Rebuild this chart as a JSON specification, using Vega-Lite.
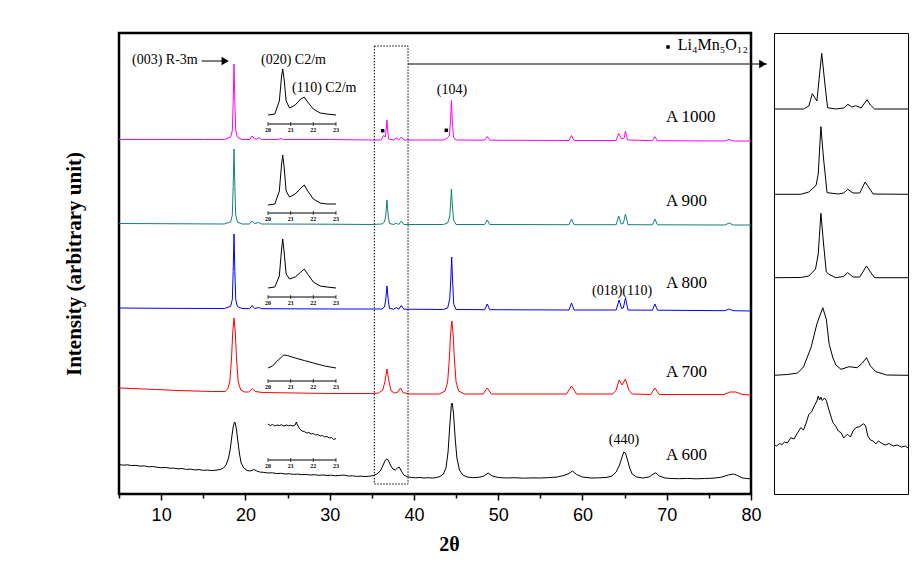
{
"$schema": "https://vega.github.io/schema/vega-lite/v6.json",
"padding": {"left": 61, "top": 31, "right": 5, "bottom": 5},
"spacing": 23,
"bounds": "flush",
"config": {"view": {"stroke": "black", "strokeWidth": 2}, "text": {"font": "Liberation Serif", "color": "black"}},
"datasets": {
"main": [
{"s":"A 1000","t":5,"v":354.5},{"s":"A 1000","t":10,"v":354.5},{"s":"A 1000","t":15,"v":354.5},{"s":"A 1000","t":17.5,"v":354.5},{"s":"A 1000","t":18.25,"v":356.8},{"s":"A 1000","t":18.45,"v":363.6},{"s":"A 1000","t":18.55,"v":392.3},{"s":"A 1000","t":18.65,"v":430},{"s":"A 1000","t":18.75,"v":392.3},{"s":"A 1000","t":18.85,"v":363.6},{"s":"A 1000","t":19.05,"v":356.8},{"s":"A 1000","t":19.6,"v":354.5},{"s":"A 1000","t":20.5,"v":354.5},{"s":"A 1000","t":20.8,"v":358},{"s":"A 1000","t":21.1,"v":355},{"s":"A 1000","t":21.35,"v":355},{"s":"A 1000","t":21.6,"v":356.5},{"s":"A 1000","t":21.9,"v":354.5},{"s":"A 1000","t":23.9,"v":354.5},{"s":"A 1000","t":24.2,"v":355.5},{"s":"A 1000","t":24.5,"v":354.5},{"s":"A 1000","t":30,"v":354.5},{"s":"A 1000","t":35,"v":354},{"s":"A 1000","t":36.1,"v":354},{"s":"A 1000","t":36.4,"v":358.5},{"s":"A 1000","t":36.6,"v":357},{"s":"A 1000","t":36.7,"v":364},{"s":"A 1000","t":36.8,"v":374},{"s":"A 1000","t":36.9,"v":362},{"s":"A 1000","t":37.0,"v":355},{"s":"A 1000","t":37.6,"v":354},{"s":"A 1000","t":37.9,"v":356},{"s":"A 1000","t":38.2,"v":354},{"s":"A 1000","t":38.5,"v":357},{"s":"A 1000","t":38.8,"v":354},{"s":"A 1000","t":43.5,"v":354},{"s":"A 1000","t":43.9,"v":355.5},{"s":"A 1000","t":44.2,"v":358},{"s":"A 1000","t":44.35,"v":373},{"s":"A 1000","t":44.45,"v":393.5},{"s":"A 1000","t":44.55,"v":373},{"s":"A 1000","t":44.7,"v":357},{"s":"A 1000","t":45.0,"v":354},{"s":"A 1000","t":48.4,"v":353.8},{"s":"A 1000","t":48.7,"v":357.5},{"s":"A 1000","t":49.0,"v":353.8},{"s":"A 1000","t":58.4,"v":353.5},{"s":"A 1000","t":58.7,"v":358.5},{"s":"A 1000","t":59.0,"v":353.5},{"s":"A 1000","t":64.0,"v":353.5},{"s":"A 1000","t":64.3,"v":360.5},{"s":"A 1000","t":64.65,"v":355},{"s":"A 1000","t":64.95,"v":356},{"s":"A 1000","t":65.1,"v":363},{"s":"A 1000","t":65.35,"v":354},{"s":"A 1000","t":68.3,"v":353.3},{"s":"A 1000","t":68.6,"v":357.3},{"s":"A 1000","t":68.9,"v":353.3},{"s":"A 1000","t":76.9,"v":353},{"s":"A 1000","t":77.4,"v":354.5},{"s":"A 1000","t":77.9,"v":353},{"s":"A 1000","t":80,"v":353},
{"s":"A 900","t":5,"v":270.5},{"s":"A 900","t":10,"v":270.3},{"s":"A 900","t":17.5,"v":270},{"s":"A 900","t":18.25,"v":272.2},{"s":"A 900","t":18.45,"v":279},{"s":"A 900","t":18.55,"v":307.5},{"s":"A 900","t":18.65,"v":345},{"s":"A 900","t":18.75,"v":307.5},{"s":"A 900","t":18.85,"v":279},{"s":"A 900","t":19.05,"v":272},{"s":"A 900","t":19.6,"v":270},{"s":"A 900","t":20.5,"v":270},{"s":"A 900","t":20.8,"v":273},{"s":"A 900","t":21.1,"v":270.5},{"s":"A 900","t":21.6,"v":271.5},{"s":"A 900","t":21.9,"v":270},{"s":"A 900","t":30,"v":269.8},{"s":"A 900","t":35,"v":269.5},{"s":"A 900","t":36.2,"v":270},{"s":"A 900","t":36.5,"v":272},{"s":"A 900","t":36.65,"v":278},{"s":"A 900","t":36.8,"v":294},{"s":"A 900","t":36.95,"v":278},{"s":"A 900","t":37.1,"v":270.5},{"s":"A 900","t":37.6,"v":269.5},{"s":"A 900","t":37.9,"v":270.8},{"s":"A 900","t":38.2,"v":269.5},{"s":"A 900","t":38.5,"v":273},{"s":"A 900","t":38.8,"v":269.5},{"s":"A 900","t":43.5,"v":269.5},{"s":"A 900","t":44.0,"v":271},{"s":"A 900","t":44.25,"v":278},{"s":"A 900","t":44.35,"v":290},{"s":"A 900","t":44.45,"v":305},{"s":"A 900","t":44.55,"v":290},{"s":"A 900","t":44.7,"v":274},{"s":"A 900","t":45.0,"v":269.5},{"s":"A 900","t":48.4,"v":269.5},{"s":"A 900","t":48.7,"v":274},{"s":"A 900","t":49.0,"v":269.5},{"s":"A 900","t":58.4,"v":269.3},{"s":"A 900","t":58.7,"v":275},{"s":"A 900","t":59.0,"v":269.3},{"s":"A 900","t":64.0,"v":269.3},{"s":"A 900","t":64.3,"v":278},{"s":"A 900","t":64.6,"v":270},{"s":"A 900","t":64.85,"v":270.5},{"s":"A 900","t":65.1,"v":280},{"s":"A 900","t":65.4,"v":269.3},{"s":"A 900","t":68.3,"v":269.2},{"s":"A 900","t":68.6,"v":275},{"s":"A 900","t":68.9,"v":269.2},{"s":"A 900","t":76.9,"v":269},{"s":"A 900","t":77.4,"v":271},{"s":"A 900","t":77.9,"v":269},{"s":"A 900","t":80,"v":269},
{"s":"A 800","t":5,"v":186},{"s":"A 800","t":10,"v":185.7},{"s":"A 800","t":17.5,"v":185.5},{"s":"A 800","t":18.25,"v":187.7},{"s":"A 800","t":18.45,"v":194.7},{"s":"A 800","t":18.55,"v":222.7},{"s":"A 800","t":18.65,"v":260},{"s":"A 800","t":18.75,"v":222.7},{"s":"A 800","t":18.85,"v":194.7},{"s":"A 800","t":19.05,"v":187.5},{"s":"A 800","t":19.6,"v":185.5},{"s":"A 800","t":20.5,"v":185.3},{"s":"A 800","t":20.8,"v":188.5},{"s":"A 800","t":21.1,"v":185.5},{"s":"A 800","t":21.6,"v":186.5},{"s":"A 800","t":21.9,"v":185.3},{"s":"A 800","t":30,"v":185},{"s":"A 800","t":36.2,"v":185},{"s":"A 800","t":36.5,"v":187},{"s":"A 800","t":36.65,"v":194},{"s":"A 800","t":36.8,"v":208},{"s":"A 800","t":36.95,"v":194},{"s":"A 800","t":37.1,"v":185.5},{"s":"A 800","t":37.6,"v":184.8},{"s":"A 800","t":37.9,"v":186.3},{"s":"A 800","t":38.2,"v":184.8},{"s":"A 800","t":38.5,"v":188.5},{"s":"A 800","t":38.8,"v":184.8},{"s":"A 800","t":43.5,"v":184.5},{"s":"A 800","t":44.0,"v":186},{"s":"A 800","t":44.25,"v":195},{"s":"A 800","t":44.38,"v":215},{"s":"A 800","t":44.48,"v":237},{"s":"A 800","t":44.58,"v":215},{"s":"A 800","t":44.72,"v":190},{"s":"A 800","t":45.0,"v":184.5},{"s":"A 800","t":48.4,"v":184.3},{"s":"A 800","t":48.7,"v":190},{"s":"A 800","t":49.0,"v":184.3},{"s":"A 800","t":58.4,"v":184},{"s":"A 800","t":58.7,"v":191},{"s":"A 800","t":59.0,"v":184},{"s":"A 800","t":64.0,"v":184},{"s":"A 800","t":64.35,"v":194},{"s":"A 800","t":64.65,"v":185.5},{"s":"A 800","t":64.85,"v":186},{"s":"A 800","t":65.1,"v":196},{"s":"A 800","t":65.4,"v":184},{"s":"A 800","t":68.3,"v":183.8},{"s":"A 800","t":68.6,"v":190},{"s":"A 800","t":68.9,"v":183.8},{"s":"A 800","t":76.9,"v":183.3},{"s":"A 800","t":77.4,"v":185},{"s":"A 800","t":77.9,"v":183.3},{"s":"A 800","t":80,"v":183},
{"s":"A 700","t":5,"v":106},{"s":"A 700","t":8,"v":105},{"s":"A 700","t":12,"v":103.5},{"s":"A 700","t":16,"v":102.5},{"s":"A 700","t":17.6,"v":102.5},{"s":"A 700","t":17.9,"v":105},{"s":"A 700","t":18.15,"v":112},{"s":"A 700","t":18.35,"v":135},{"s":"A 700","t":18.5,"v":162},{"s":"A 700","t":18.65,"v":176},{"s":"A 700","t":18.8,"v":162},{"s":"A 700","t":18.95,"v":135},{"s":"A 700","t":19.15,"v":112},{"s":"A 700","t":19.45,"v":104},{"s":"A 700","t":19.9,"v":102},{"s":"A 700","t":20.4,"v":102},{"s":"A 700","t":20.8,"v":105.3},{"s":"A 700","t":21.2,"v":102.5},{"s":"A 700","t":22,"v":101.5},{"s":"A 700","t":26,"v":101},{"s":"A 700","t":30,"v":100.5},{"s":"A 700","t":35,"v":100.5},{"s":"A 700","t":35.8,"v":101},{"s":"A 700","t":36.3,"v":104},{"s":"A 700","t":36.55,"v":112},{"s":"A 700","t":36.8,"v":125},{"s":"A 700","t":37.05,"v":112},{"s":"A 700","t":37.3,"v":103},{"s":"A 700","t":37.7,"v":101},{"s":"A 700","t":38.1,"v":102},{"s":"A 700","t":38.4,"v":106},{"s":"A 700","t":38.7,"v":101.5},{"s":"A 700","t":39.5,"v":100},{"s":"A 700","t":43,"v":100},{"s":"A 700","t":43.7,"v":103},{"s":"A 700","t":44.0,"v":112},{"s":"A 700","t":44.2,"v":135},{"s":"A 700","t":44.35,"v":160},{"s":"A 700","t":44.5,"v":173},{"s":"A 700","t":44.65,"v":160},{"s":"A 700","t":44.8,"v":135},{"s":"A 700","t":45.0,"v":112},{"s":"A 700","t":45.3,"v":103},{"s":"A 700","t":46,"v":100},{"s":"A 700","t":48.2,"v":100},{"s":"A 700","t":48.7,"v":106},{"s":"A 700","t":49.2,"v":100},{"s":"A 700","t":58.1,"v":100},{"s":"A 700","t":58.7,"v":108},{"s":"A 700","t":59.3,"v":100},{"s":"A 700","t":63.6,"v":100},{"s":"A 700","t":64.0,"v":104},{"s":"A 700","t":64.35,"v":114},{"s":"A 700","t":64.7,"v":109},{"s":"A 700","t":65.1,"v":115},{"s":"A 700","t":65.5,"v":104},{"s":"A 700","t":65.9,"v":100},{"s":"A 700","t":68.1,"v":99.5},{"s":"A 700","t":68.6,"v":106},{"s":"A 700","t":69.1,"v":99.5},{"s":"A 700","t":76.8,"v":99.5},{"s":"A 700","t":77.5,"v":102},{"s":"A 700","t":78.2,"v":102},{"s":"A 700","t":79,"v":99.5},{"s":"A 700","t":80,"v":99},
{"s":"A 600","t":5,"v":29.5},{"s":"A 600","t":5.5,"v":28.8},{"s":"A 600","t":6,"v":29.2},{"s":"A 600","t":6.5,"v":28.4},{"s":"A 600","t":7,"v":28.6},{"s":"A 600","t":7.5,"v":27.9},{"s":"A 600","t":8,"v":28.1},{"s":"A 600","t":8.5,"v":27.2},{"s":"A 600","t":9,"v":27.5},{"s":"A 600","t":9.5,"v":26.8},{"s":"A 600","t":10,"v":26.3},{"s":"A 600","t":10.5,"v":26.6},{"s":"A 600","t":11,"v":25.8},{"s":"A 600","t":11.5,"v":25.9},{"s":"A 600","t":12,"v":25.2},{"s":"A 600","t":12.5,"v":25.5},{"s":"A 600","t":13,"v":24.6},{"s":"A 600","t":13.5,"v":24.8},{"s":"A 600","t":14,"v":24.1},{"s":"A 600","t":14.5,"v":24.4},{"s":"A 600","t":15,"v":23.7},{"s":"A 600","t":15.5,"v":23.9},{"s":"A 600","t":16,"v":23.4},{"s":"A 600","t":16.5,"v":23.8},{"s":"A 600","t":17,"v":24.5},{"s":"A 600","t":17.4,"v":26},{"s":"A 600","t":17.7,"v":29},{"s":"A 600","t":18.0,"v":36},{"s":"A 600","t":18.2,"v":45},{"s":"A 600","t":18.4,"v":58},{"s":"A 600","t":18.55,"v":67},{"s":"A 600","t":18.7,"v":72},{"s":"A 600","t":18.8,"v":71},{"s":"A 600","t":18.95,"v":64},{"s":"A 600","t":19.1,"v":53},{"s":"A 600","t":19.3,"v":40},{"s":"A 600","t":19.5,"v":31},{"s":"A 600","t":19.8,"v":26},{"s":"A 600","t":20.2,"v":23.5},{"s":"A 600","t":20.6,"v":23},{"s":"A 600","t":21.0,"v":24.5},{"s":"A 600","t":21.3,"v":23.2},{"s":"A 600","t":21.7,"v":22},{"s":"A 600","t":22.2,"v":21.6},{"s":"A 600","t":22.7,"v":21},{"s":"A 600","t":23.2,"v":21.2},{"s":"A 600","t":23.7,"v":20.4},{"s":"A 600","t":24.2,"v":20.7},{"s":"A 600","t":24.7,"v":20},{"s":"A 600","t":25.2,"v":20.3},{"s":"A 600","t":25.7,"v":19.6},{"s":"A 600","t":26.2,"v":19.9},{"s":"A 600","t":26.7,"v":19.3},{"s":"A 600","t":27.2,"v":19.6},{"s":"A 600","t":27.7,"v":19},{"s":"A 600","t":28.2,"v":19.3},{"s":"A 600","t":28.7,"v":18.7},{"s":"A 600","t":29.2,"v":19},{"s":"A 600","t":29.7,"v":18.5},{"s":"A 600","t":30.2,"v":18.8},{"s":"A 600","t":30.7,"v":18.2},{"s":"A 600","t":31.2,"v":18.6},{"s":"A 600","t":31.7,"v":18.9},{"s":"A 600","t":32.2,"v":18},{"s":"A 600","t":32.7,"v":18.2},{"s":"A 600","t":33.2,"v":17.6},{"s":"A 600","t":33.7,"v":17.9},{"s":"A 600","t":34.2,"v":17.4},{"s":"A 600","t":34.7,"v":17.8},{"s":"A 600","t":35.2,"v":18.5},{"s":"A 600","t":35.6,"v":20},{"s":"A 600","t":36.0,"v":23},{"s":"A 600","t":36.3,"v":28},{"s":"A 600","t":36.55,"v":33},{"s":"A 600","t":36.75,"v":35},{"s":"A 600","t":36.95,"v":34},{"s":"A 600","t":37.2,"v":29},{"s":"A 600","t":37.5,"v":25},{"s":"A 600","t":37.8,"v":24},{"s":"A 600","t":38.05,"v":26},{"s":"A 600","t":38.25,"v":27},{"s":"A 600","t":38.5,"v":23},{"s":"A 600","t":38.8,"v":19},{"s":"A 600","t":39.2,"v":17.2},{"s":"A 600","t":39.7,"v":16.5},{"s":"A 600","t":40.2,"v":16.2},{"s":"A 600","t":40.7,"v":16.5},{"s":"A 600","t":41.2,"v":16},{"s":"A 600","t":41.7,"v":16.3},{"s":"A 600","t":42.2,"v":16},{"s":"A 600","t":42.7,"v":16.5},{"s":"A 600","t":43.1,"v":17.5},{"s":"A 600","t":43.5,"v":20},{"s":"A 600","t":43.8,"v":26},{"s":"A 600","t":44.05,"v":42},{"s":"A 600","t":44.25,"v":68},{"s":"A 600","t":44.45,"v":90},{"s":"A 600","t":44.55,"v":91},{"s":"A 600","t":44.7,"v":80},{"s":"A 600","t":44.9,"v":55},{"s":"A 600","t":45.1,"v":36},{"s":"A 600","t":45.4,"v":24},{"s":"A 600","t":45.8,"v":19},{"s":"A 600","t":46.3,"v":17},{"s":"A 600","t":47,"v":16.3},{"s":"A 600","t":47.8,"v":16.8},{"s":"A 600","t":48.3,"v":18},{"s":"A 600","t":48.8,"v":21},{"s":"A 600","t":49.3,"v":18},{"s":"A 600","t":50,"v":16.5},{"s":"A 600","t":51,"v":16},{"s":"A 600","t":52,"v":16.3},{"s":"A 600","t":53,"v":15.8},{"s":"A 600","t":54,"v":16.1},{"s":"A 600","t":55,"v":16},{"s":"A 600","t":56,"v":16.4},{"s":"A 600","t":57,"v":17},{"s":"A 600","t":57.8,"v":18.5},{"s":"A 600","t":58.4,"v":20.5},{"s":"A 600","t":58.8,"v":23},{"s":"A 600","t":59.3,"v":19.5},{"s":"A 600","t":60,"v":17},{"s":"A 600","t":61,"v":16},{"s":"A 600","t":62,"v":16.2},{"s":"A 600","t":62.8,"v":16.5},{"s":"A 600","t":63.5,"v":18},{"s":"A 600","t":64.0,"v":22},{"s":"A 600","t":64.4,"v":29},{"s":"A 600","t":64.7,"v":37},{"s":"A 600","t":64.9,"v":42},{"s":"A 600","t":65.1,"v":41},{"s":"A 600","t":65.35,"v":34},{"s":"A 600","t":65.6,"v":26},{"s":"A 600","t":65.9,"v":20},{"s":"A 600","t":66.4,"v":17},{"s":"A 600","t":67.2,"v":16},{"s":"A 600","t":67.9,"v":17},{"s":"A 600","t":68.4,"v":20},{"s":"A 600","t":68.7,"v":21.2},{"s":"A 600","t":69.1,"v":18},{"s":"A 600","t":69.8,"v":16},{"s":"A 600","t":70.5,"v":15.5},{"s":"A 600","t":71.5,"v":15.3},{"s":"A 600","t":72.5,"v":15.6},{"s":"A 600","t":73.5,"v":15.2},{"s":"A 600","t":74.5,"v":15.5},{"s":"A 600","t":75.5,"v":15.8},{"s":"A 600","t":76.5,"v":16.8},{"s":"A 600","t":77.3,"v":19},{"s":"A 600","t":77.9,"v":20},{"s":"A 600","t":78.4,"v":18.5},{"s":"A 600","t":79,"v":16},{"s":"A 600","t":79.5,"v":15.5},{"s":"A 600","t":80,"v":15.2}
],
"inset": [
{"s":"A 1000","t":20.0,"v":379},{"s":"A 1000","t":20.3,"v":380},{"s":"A 1000","t":20.5,"v":393},{"s":"A 1000","t":20.6,"v":418},{"s":"A 1000","t":20.65,"v":425},{"s":"A 1000","t":20.72,"v":413},{"s":"A 1000","t":20.8,"v":393},{"s":"A 1000","t":20.95,"v":386},{"s":"A 1000","t":21.2,"v":389},{"s":"A 1000","t":21.45,"v":395},{"s":"A 1000","t":21.6,"v":397},{"s":"A 1000","t":21.75,"v":392},{"s":"A 1000","t":22.0,"v":385},{"s":"A 1000","t":22.3,"v":381},{"s":"A 1000","t":22.6,"v":380},{"s":"A 1000","t":23.0,"v":379},
{"s":"A 900","t":20.0,"v":289},{"s":"A 900","t":20.3,"v":290},{"s":"A 900","t":20.5,"v":303},{"s":"A 900","t":20.6,"v":330},{"s":"A 900","t":20.65,"v":339},{"s":"A 900","t":20.72,"v":325},{"s":"A 900","t":20.8,"v":303},{"s":"A 900","t":20.95,"v":297},{"s":"A 900","t":21.2,"v":300},{"s":"A 900","t":21.45,"v":306},{"s":"A 900","t":21.6,"v":309},{"s":"A 900","t":21.75,"v":303},{"s":"A 900","t":22.0,"v":295},{"s":"A 900","t":22.3,"v":291},{"s":"A 900","t":22.6,"v":290},{"s":"A 900","t":23.0,"v":290},
{"s":"A 800","t":20.0,"v":206},{"s":"A 800","t":20.3,"v":207},{"s":"A 800","t":20.5,"v":218},{"s":"A 800","t":20.6,"v":245},{"s":"A 800","t":20.65,"v":255},{"s":"A 800","t":20.72,"v":240},{"s":"A 800","t":20.8,"v":220},{"s":"A 800","t":20.95,"v":215},{"s":"A 800","t":21.2,"v":217},{"s":"A 800","t":21.45,"v":222},{"s":"A 800","t":21.6,"v":225},{"s":"A 800","t":21.75,"v":220},{"s":"A 800","t":22.0,"v":212},{"s":"A 800","t":22.3,"v":208},{"s":"A 800","t":22.6,"v":207},{"s":"A 800","t":23.0,"v":206},
{"s":"A 700","t":20.0,"v":126},{"s":"A 700","t":20.2,"v":128},{"s":"A 700","t":20.45,"v":134},{"s":"A 700","t":20.7,"v":139},{"s":"A 700","t":20.85,"v":138.5},{"s":"A 700","t":21.2,"v":136},{"s":"A 700","t":21.6,"v":133.5},{"s":"A 700","t":22.0,"v":131},{"s":"A 700","t":22.5,"v":128},{"s":"A 700","t":23.0,"v":126},
{"s":"A 600","t":20.0,"v":70},{"s":"A 600","t":20.1,"v":68.5},{"s":"A 600","t":20.2,"v":69.5},{"s":"A 600","t":20.3,"v":68},{"s":"A 600","t":20.4,"v":69},{"s":"A 600","t":20.5,"v":68.5},{"s":"A 600","t":20.6,"v":69.2},{"s":"A 600","t":20.7,"v":68},{"s":"A 600","t":20.8,"v":69},{"s":"A 600","t":20.9,"v":68.3},{"s":"A 600","t":21.0,"v":68.8},{"s":"A 600","t":21.1,"v":68},{"s":"A 600","t":21.2,"v":69},{"s":"A 600","t":21.25,"v":72},{"s":"A 600","t":21.3,"v":69},{"s":"A 600","t":21.4,"v":65},{"s":"A 600","t":21.5,"v":63},{"s":"A 600","t":21.6,"v":62.5},{"s":"A 600","t":21.7,"v":61},{"s":"A 600","t":21.8,"v":61.5},{"s":"A 600","t":21.9,"v":60},{"s":"A 600","t":22.0,"v":60.5},{"s":"A 600","t":22.1,"v":59},{"s":"A 600","t":22.2,"v":59.5},{"s":"A 600","t":22.3,"v":58},{"s":"A 600","t":22.4,"v":58.5},{"s":"A 600","t":22.5,"v":57},{"s":"A 600","t":22.6,"v":57.5},{"s":"A 600","t":22.7,"v":56},{"s":"A 600","t":22.8,"v":56.5},{"s":"A 600","t":22.9,"v":54.5},{"s":"A 600","t":23.0,"v":55.5}
],
"insetAxis": [
{"s":"A 1000","base":370},{"s":"A 900","base":281},{"s":"A 800","base":197},{"s":"A 700","base":113},{"s":"A 600","base":34}
],
"insetTicks": [
{"t":20,"base":370,"lab":"20"},{"t":21,"base":370,"lab":"21"},{"t":22,"base":370,"lab":"22"},{"t":23,"base":370,"lab":"23"},
{"t":20,"base":281,"lab":"20"},{"t":21,"base":281,"lab":"21"},{"t":22,"base":281,"lab":"22"},{"t":23,"base":281,"lab":"23"},
{"t":20,"base":197,"lab":"20"},{"t":21,"base":197,"lab":"21"},{"t":22,"base":197,"lab":"22"},{"t":23,"base":197,"lab":"23"},
{"t":20,"base":113,"lab":"20"},{"t":21,"base":113,"lab":"21"},{"t":22,"base":113,"lab":"22"},{"t":23,"base":113,"lab":"23"},
{"t":20,"base":34,"lab":"20"},{"t":21,"base":34,"lab":"21"},{"t":22,"base":34,"lab":"22"},{"t":23,"base":34,"lab":"23"}
],
"zoom": [
{"s":"A 1000","t":35,"v":385},{"s":"A 1000","t":36.1,"v":385},{"s":"A 1000","t":36.3,"v":388},{"s":"A 1000","t":36.43,"v":400.3},{"s":"A 1000","t":36.6,"v":393},{"s":"A 1000","t":36.78,"v":440.7},{"s":"A 1000","t":36.9,"v":410},{"s":"A 1000","t":37.0,"v":386.3},{"s":"A 1000","t":37.3,"v":385},{"s":"A 1000","t":37.6,"v":386},{"s":"A 1000","t":37.76,"v":389.7},{"s":"A 1000","t":37.9,"v":387},{"s":"A 1000","t":38.05,"v":388.3},{"s":"A 1000","t":38.25,"v":386},{"s":"A 1000","t":38.47,"v":394.3},{"s":"A 1000","t":38.6,"v":389},{"s":"A 1000","t":38.75,"v":385},{"s":"A 1000","t":40,"v":385},
{"s":"A 900","t":35,"v":299.7},{"s":"A 900","t":36.0,"v":299.7},{"s":"A 900","t":36.3,"v":302},{"s":"A 900","t":36.57,"v":308.7},{"s":"A 900","t":36.65,"v":320},{"s":"A 900","t":36.75,"v":367.3},{"s":"A 900","t":36.85,"v":335},{"s":"A 900","t":36.98,"v":301.3},{"s":"A 900","t":37.4,"v":300},{"s":"A 900","t":37.6,"v":301},{"s":"A 900","t":37.75,"v":304.7},{"s":"A 900","t":37.95,"v":301},{"s":"A 900","t":38.2,"v":301},{"s":"A 900","t":38.4,"v":312},{"s":"A 900","t":38.55,"v":306},{"s":"A 900","t":38.7,"v":300},{"s":"A 900","t":40,"v":299.7},
{"s":"A 800","t":35,"v":216.3},{"s":"A 800","t":36.0,"v":216.5},{"s":"A 800","t":36.3,"v":218},{"s":"A 800","t":36.55,"v":225},{"s":"A 800","t":36.65,"v":240},{"s":"A 800","t":36.75,"v":280.7},{"s":"A 800","t":36.85,"v":250},{"s":"A 800","t":36.95,"v":222},{"s":"A 800","t":37.05,"v":219.7},{"s":"A 800","t":37.3,"v":216.3},{"s":"A 800","t":37.6,"v":217.5},{"s":"A 800","t":37.75,"v":221.3},{"s":"A 800","t":37.95,"v":217},{"s":"A 800","t":38.2,"v":217},{"s":"A 800","t":38.45,"v":228},{"s":"A 800","t":38.6,"v":222},{"s":"A 800","t":38.75,"v":216.3},{"s":"A 800","t":40,"v":216.3},
{"s":"A 700","t":35,"v":118.7},{"s":"A 700","t":35.5,"v":119.5},{"s":"A 700","t":35.88,"v":121},{"s":"A 700","t":36.1,"v":127},{"s":"A 700","t":36.38,"v":146.3},{"s":"A 700","t":36.6,"v":170},{"s":"A 700","t":36.82,"v":186.3},{"s":"A 700","t":36.95,"v":175},{"s":"A 700","t":37.06,"v":149.7},{"s":"A 700","t":37.2,"v":136},{"s":"A 700","t":37.31,"v":129},{"s":"A 700","t":37.5,"v":124.7},{"s":"A 700","t":37.8,"v":127.3},{"s":"A 700","t":38.1,"v":126.3},{"s":"A 700","t":38.3,"v":131},{"s":"A 700","t":38.45,"v":136.3},{"s":"A 700","t":38.6,"v":128},{"s":"A 700","t":38.8,"v":122.3},{"s":"A 700","t":39.2,"v":119},{"s":"A 700","t":40,"v":118.7},
{"s":"A 600","t":35,"v":49},{"s":"A 600","t":35.1,"v":48},{"s":"A 600","t":35.2,"v":50.5},{"s":"A 600","t":35.3,"v":49.5},{"s":"A 600","t":35.4,"v":52},{"s":"A 600","t":35.5,"v":51},{"s":"A 600","t":35.63,"v":56.3},{"s":"A 600","t":35.75,"v":55},{"s":"A 600","t":35.85,"v":60},{"s":"A 600","t":36.0,"v":66.3},{"s":"A 600","t":36.1,"v":64},{"s":"A 600","t":36.2,"v":71},{"s":"A 600","t":36.3,"v":79.7},{"s":"A 600","t":36.4,"v":82},{"s":"A 600","t":36.5,"v":88},{"s":"A 600","t":36.6,"v":93},{"s":"A 600","t":36.65,"v":98},{"s":"A 600","t":36.7,"v":94},{"s":"A 600","t":36.75,"v":97},{"s":"A 600","t":36.8,"v":93.5},{"s":"A 600","t":36.88,"v":96},{"s":"A 600","t":36.95,"v":93.7},{"s":"A 600","t":37.05,"v":84},{"s":"A 600","t":37.2,"v":71.3},{"s":"A 600","t":37.3,"v":68},{"s":"A 600","t":37.4,"v":63},{"s":"A 600","t":37.5,"v":61.3},{"s":"A 600","t":37.6,"v":56},{"s":"A 600","t":37.7,"v":59},{"s":"A 600","t":37.75,"v":59.7},{"s":"A 600","t":37.85,"v":57},{"s":"A 600","t":37.95,"v":63},{"s":"A 600","t":38.05,"v":66.3},{"s":"A 600","t":38.2,"v":67.5},{"s":"A 600","t":38.35,"v":70.3},{"s":"A 600","t":38.42,"v":68},{"s":"A 600","t":38.5,"v":58},{"s":"A 600","t":38.6,"v":54},{"s":"A 600","t":38.7,"v":53},{"s":"A 600","t":38.8,"v":50},{"s":"A 600","t":38.9,"v":53},{"s":"A 600","t":39.0,"v":51},{"s":"A 600","t":39.15,"v":49},{"s":"A 600","t":39.3,"v":50.5},{"s":"A 600","t":39.45,"v":48},{"s":"A 600","t":39.6,"v":49},{"s":"A 600","t":39.75,"v":47},{"s":"A 600","t":39.9,"v":48},{"s":"A 600","t":40,"v":46}
],
"labels": [
{"label":"A 1000","t":69.9,"v":377},{"label":"A 900","t":69.9,"v":293},{"label":"A 800","t":69.9,"v":211},{"label":"A 700","t":69.9,"v":122},{"label":"A 600","t":69.9,"v":39}
],
"annLeft": [
{"label":"(003) R-3m","t":6.54,"v":434},{"label":"(020) C2/m","t":21.85,"v":434},{"label":"(110) C2/m","t":25.53,"v":406},{"label":"(018)(110)","t":61.13,"v":203}
],
"annCenter": [
{"label":"(104)","t":44.52,"v":404},{"label":"(440)","t":64.93,"v":54}
],
"legendText": [{"label":"Li₄Mn₅O₁₂","t":71.3,"v":449}],
"squares": [{"t":36.29,"v":363.3},{"t":43.84,"v":363.7},{"t":70.15,"v":447}],
"region": [{"t":35.3,"t2":39.3,"v":10,"v2":448}],
"arrows": [{"t":39.3,"t2":81.9,"v":430},{"t":14.8,"t2":17.6,"v":433}],
"heads": [{"t":81.4,"v":430},{"t":17.6,"v":433}]
},
"hconcat": [
{
"width": 632, "height": 461,
"view": {"stroke": "black", "strokeWidth": 2.5},
"resolve": {"scale": {"x": "independent"}},
"layer": [
{
"layer": [
{
"data": {"name": "main"},
"mark": {"type": "line", "strokeWidth": 1},
"encoding": {
"x": {"field": "t", "type": "quantitative", "scale": {"domain": [5, 80], "nice": false, "zero": false},
"axis": {"values": [5,10,15,20,25,30,35,40,45,50,55,60,65,70,75,80], "labelExpr": "datum.value % 10 === 0 ? datum.label : ''", "tickSize": {"condition": {"test": "datum.value % 10 === 0", "value": 6}, "value": 4}, "tickColor": "black", "tickWidth": 1.5, "domain": false, "grid": false, "labelOverlap": false, "labelFlush": false, "labelFont": "Liberation Sans Narrow, Liberation Sans, Arial", "labelFontSize": 18, "labelColor": "black", "labelPadding": 6, "title": "2θ", "titleFont": "Liberation Serif", "titleFontWeight": "bold", "titleFontSize": 20, "titleColor": "black", "titlePadding": 10, "titleX": 330}},
"y": {"field": "v", "type": "quantitative", "scale": {"domain": [0, 461], "nice": false, "zero": false},
"axis": {"labels": false, "ticks": false, "domain": false, "grid": false, "title": "Intensity (arbitrary unit)", "titleFont": "Liberation Serif", "titleFontWeight": "bold", "titleFontSize": 21, "titleColor": "black", "titlePadding": 35}},
"color": {"field": "s", "type": "nominal", "scale": {"domain": ["A 1000","A 900","A 800","A 700","A 600"], "range": ["#ff00ff","#137f78","#0000ff","#ff0000","#000000"]}, "legend": null}
}
},
{
"data": {"name": "region"},
"mark": {"type": "rect", "fill": null, "filled": false, "stroke": "black", "strokeWidth": 1, "strokeDash": [1.5, 1.5]},
"encoding": {
"x": {"field": "t", "type": "quantitative", "scale": {"domain": [5, 80]}},
"x2": {"field": "t2"},
"y": {"field": "v", "type": "quantitative", "scale": {"domain": [0, 461]}},
"y2": {"field": "v2"}
}
},
{
"data": {"name": "arrows"},
"mark": {"type": "rule", "color": "black", "strokeWidth": 1},
"encoding": {
"x": {"field": "t", "type": "quantitative", "scale": {"domain": [5, 80]}},
"x2": {"field": "t2"},
"y": {"field": "v", "type": "quantitative", "scale": {"domain": [0, 461]}}
}
},
{
"data": {"name": "heads"},
"mark": {"type": "point", "shape": "triangle-right", "filled": true, "color": "black", "size": 70, "opacity": 1},
"encoding": {
"x": {"field": "t", "type": "quantitative", "scale": {"domain": [5, 80]}},
"y": {"field": "v", "type": "quantitative", "scale": {"domain": [0, 461]}}
}
},
{
"data": {"name": "squares"},
"mark": {"type": "point", "shape": "square", "filled": true, "color": "black", "size": 12, "opacity": 1},
"encoding": {
"x": {"field": "t", "type": "quantitative", "scale": {"domain": [5, 80]}},
"y": {"field": "v", "type": "quantitative", "scale": {"domain": [0, 461]}}
}
},
{
"data": {"name": "labels"},
"mark": {"type": "text", "align": "left", "baseline": "middle", "fontSize": 17, "font": "Liberation Serif"},
"encoding": {
"x": {"field": "t", "type": "quantitative", "scale": {"domain": [5, 80]}},
"y": {"field": "v", "type": "quantitative", "scale": {"domain": [0, 461]}},
"text": {"field": "label"}
}
},
{
"data": {"name": "annLeft"},
"mark": {"type": "text", "align": "left", "baseline": "middle", "fontSize": 14, "font": "Liberation Serif"},
"encoding": {
"x": {"field": "t", "type": "quantitative", "scale": {"domain": [5, 80]}},
"y": {"field": "v", "type": "quantitative", "scale": {"domain": [0, 461]}},
"text": {"field": "label"}
}
},
{
"data": {"name": "annCenter"},
"mark": {"type": "text", "align": "center", "baseline": "middle", "fontSize": 14, "font": "Liberation Serif"},
"encoding": {
"x": {"field": "t", "type": "quantitative", "scale": {"domain": [5, 80]}},
"y": {"field": "v", "type": "quantitative", "scale": {"domain": [0, 461]}},
"text": {"field": "label"}
}
},
{
"data": {"name": "legendText"},
"mark": {"type": "text", "align": "left", "baseline": "middle", "fontSize": 16, "font": "Liberation Serif"},
"encoding": {
"x": {"field": "t", "type": "quantitative", "scale": {"domain": [5, 80]}},
"y": {"field": "v", "type": "quantitative", "scale": {"domain": [0, 461]}},
"text": {"field": "label"}
}
}
]
},
{
"layer": [
{
"data": {"name": "inset"},
"mark": {"type": "line", "strokeWidth": 1, "color": "black"},
"encoding": {
"x": {"field": "t", "type": "quantitative", "scale": {"domain": [20, 23], "range": [149, 217], "nice": false, "zero": false}, "axis": null},
"y": {"field": "v", "type": "quantitative", "scale": {"domain": [0, 461]}},
"detail": {"field": "s"}
}
},
{
"data": {"name": "insetAxis"},
"mark": {"type": "rule", "color": "black", "strokeWidth": 1},
"encoding": {
"x": {"datum": 20, "type": "quantitative", "scale": {"domain": [20, 23], "range": [149, 217], "nice": false, "zero": false}, "axis": null},
"x2": {"datum": 23},
"y": {"field": "base", "type": "quantitative", "scale": {"domain": [0, 461]}}
}
},
{
"data": {"name": "insetTicks"},
"mark": {"type": "tick", "orient": "vertical", "color": "black", "size": 4, "thickness": 1},
"encoding": {
"x": {"field": "t", "type": "quantitative", "scale": {"domain": [20, 23], "range": [149, 217], "nice": false, "zero": false}, "axis": null},
"y": {"field": "base", "type": "quantitative", "scale": {"domain": [0, 461]}}
}
},
{
"data": {"name": "insetTicks"},
"mark": {"type": "text", "align": "center", "baseline": "top", "dy": 3, "fontSize": 6, "fontWeight": "bold", "font": "Liberation Serif"},
"encoding": {
"x": {"field": "t", "type": "quantitative", "scale": {"domain": [20, 23], "range": [149, 217], "nice": false, "zero": false}, "axis": null},
"y": {"field": "base", "type": "quantitative", "scale": {"domain": [0, 461]}},
"text": {"field": "lab"}
}
}
]
}
]
},
{
"width": 134, "height": 461,
"view": {"stroke": "black", "strokeWidth": 1},
"data": {"name": "zoom"},
"mark": {"type": "line", "strokeWidth": 1, "color": "black"},
"encoding": {
"x": {"field": "t", "type": "quantitative", "scale": {"domain": [35, 40], "nice": false, "zero": false}, "axis": null},
"y": {"field": "v", "type": "quantitative", "scale": {"domain": [0, 461], "nice": false, "zero": false}, "axis": null},
"detail": {"field": "s"}
}
}
]
}
